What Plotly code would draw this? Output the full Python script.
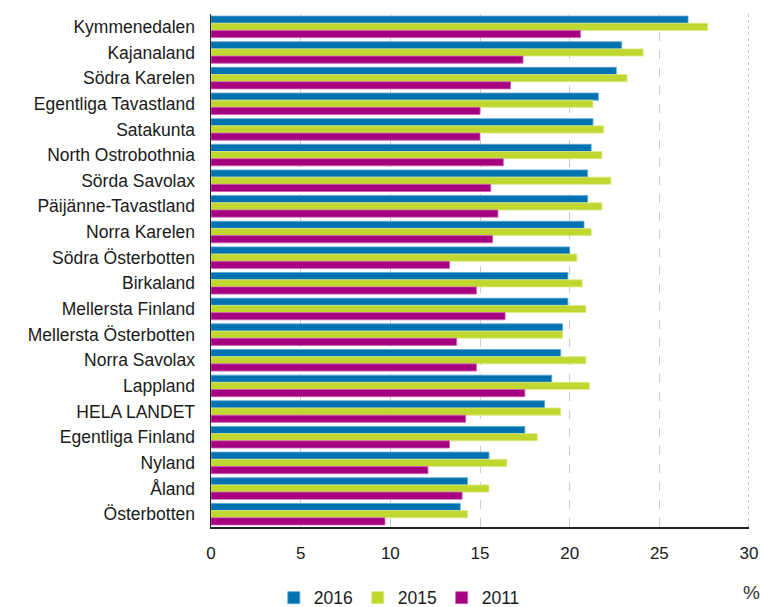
import plotly.graph_objects as go

regions = ["Kymmenedalen", "Kajanaland", "Södra Karelen", "Egentliga Tavastland", "Satakunta",
           "North Ostrobothnia", "Sörda Savolax", "Päijänne-Tavastland", "Norra Karelen",
           "Södra Österbotten", "Birkaland", "Mellersta Finland", "Mellersta Österbotten",
           "Norra Savolax", "Lappland", "HELA LANDET", "Egentliga Finland", "Nyland", "Åland",
           "Österbotten"]
v2016 = [26.6, 22.9, 22.6, 21.6, 21.3, 21.2, 21.0, 21.0, 20.8, 20.0, 19.9, 19.9, 19.6, 19.5,
         19.0, 18.6, 17.5, 15.5, 14.3, 13.9]
v2015 = [27.7, 24.1, 23.2, 21.3, 21.9, 21.8, 22.3, 21.8, 21.2, 20.4, 20.7, 20.9, 19.6, 20.9,
         21.1, 19.5, 18.2, 16.5, 15.5, 14.3]
v2011 = [20.6, 17.4, 16.7, 15.0, 15.0, 16.3, 15.6, 16.0, 15.7, 13.3, 14.8, 16.4, 13.7, 14.8,
         17.5, 14.2, 13.3, 12.1, 14.0, 9.7]
series = [("2016", v2016, "#0072B0", "#5AA6D2"),
          ("2015", v2015, "#C0D72F", "#DCEA84"),
          ("2011", v2011, "#A5007F", "#D060B4")]
xticks = [0, 5, 10, 15, 20, 25, 30]
x_max = 30

fig = go.Figure()
for name, vals, col, edge in series:
    fig.add_trace(go.Bar(y=regions, x=vals, name=name, orientation="h",
                         marker=dict(color=col, line=dict(color=edge, width=0.8))))

font = dict(family="Liberation Sans, Arial, sans-serif", size=17, color="#1a1a1a")
fig.update_layout(
    width=763, height=607,
    margin=dict(l=211, r=14, t=14, b=80, autoexpand=False),
    paper_bgcolor="white", plot_bgcolor="white",
    barmode="group", bargap=0.16, bargroupgap=0.0,
    font=font, hovermode=False,
    showlegend=True,
    legend=dict(orientation="h", x=0.35, xanchor="center", y=-0.138, yanchor="middle",
                font=dict(size=17.5), itemwidth=30, tracegroupgap=0),
    xaxis=dict(range=[0, x_max], tickvals=xticks, showgrid=True, gridcolor="#cccccc",
               griddash="dash", gridwidth=1, zeroline=False, showline=True,
               linecolor="#222", linewidth=1.5, ticks="", ticklabelstandoff=10,
               tickfont=dict(size=17), automargin=False),
    yaxis=dict(autorange="reversed", showline=True, linecolor="#222", linewidth=1.5,
               ticks="", ticklabelstandoff=11, tickfont=dict(size=17.5), showgrid=False,
               automargin=False),
    shapes=[dict(type="line", xref="x", yref="paper", x0=x_max, x1=x_max, y0=0, y1=1,
                 line=dict(color="#a8a8a8", width=1.2, dash="dot"), layer="below")],
    annotations=[dict(text="%", xref="paper", yref="paper", x=1.004, y=-0.127,
                      xanchor="center", yanchor="middle", showarrow=False,
                      font=dict(size=19, color="#333"))],
)
fig.write_html("out.html", config={"displayModeBar": False, "staticPlot": True},
               post_script="document.body.style.margin='0';document.body.style.overflow='hidden';")
